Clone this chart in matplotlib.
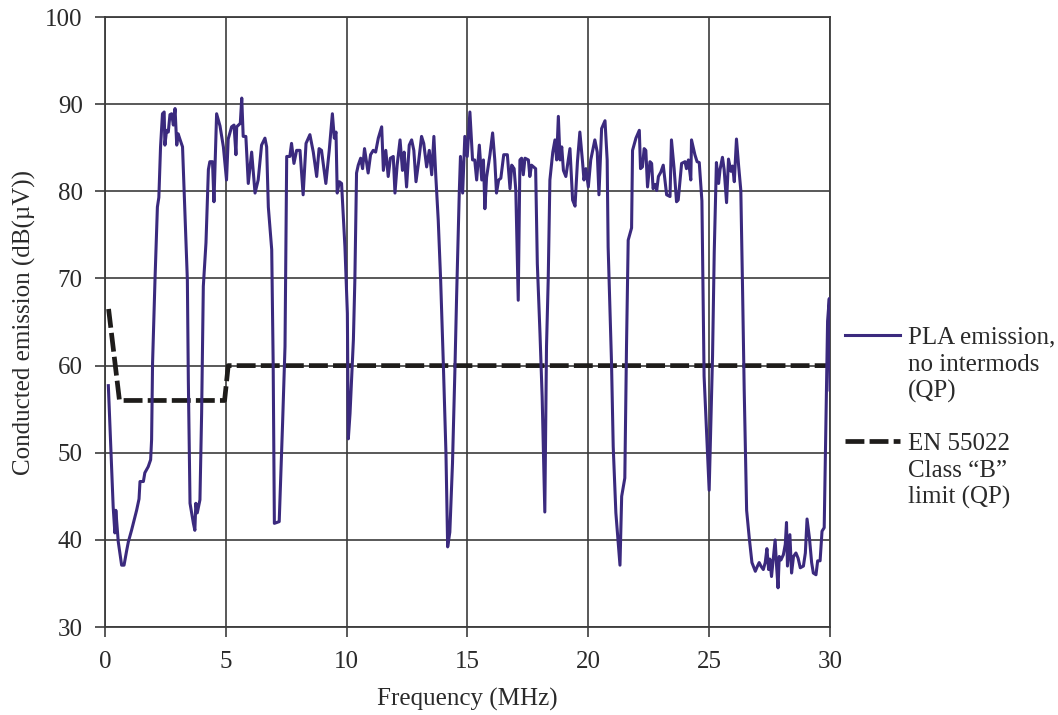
import matplotlib
matplotlib.use('Agg')
import matplotlib.pyplot as plt
from matplotlib.lines import Line2D

# PLA emission, no intermods (QP)
freq = [0.14, 0.34, 0.41, 0.45, 0.55, 0.69, 0.79, 0.9, 0.97, 1.10, 1.31, 1.41, 1.45, 1.59,
        1.65, 1.79, 1.89, 1.93, 1.97, 2.07, 2.17, 2.23, 2.30, 2.38, 2.45, 2.48, 2.55, 2.62,
        2.69, 2.76, 2.83, 2.90, 2.97, 3.03, 3.10, 3.21, 3.31, 3.41, 3.45, 3.52, 3.66, 3.72,
        3.76, 3.82, 3.93, 4.00, 4.07, 4.18, 4.28, 4.34, 4.45, 4.51, 4.62, 4.76, 4.90, 5.03,
        5.10, 5.24, 5.34, 5.42, 5.45, 5.60, 5.66, 5.72, 5.83, 5.93, 6.07, 6.21, 6.34, 6.48,
        6.62, 6.69, 6.76, 6.90, 6.96, 7.01, 7.21, 7.35, 7.45, 7.52, 7.65, 7.72, 7.82, 7.93,
        8.07, 8.20, 8.32, 8.48, 8.62, 8.76, 8.86, 8.96, 9.14, 9.28, 9.41, 9.49, 9.56, 9.61,
        9.70, 9.79, 9.93, 10.03, 10.07, 10.14, 10.28, 10.34, 10.41, 10.48, 10.58, 10.66,
        10.74, 10.89, 10.99, 11.10, 11.20, 11.31, 11.45, 11.52, 11.62, 11.72, 11.81, 11.93,
        12.00, 12.09, 12.21, 12.31, 12.38, 12.48, 12.59, 12.69, 12.78, 12.87, 12.97, 13.10,
        13.19, 13.31, 13.42, 13.52, 13.61, 13.69, 13.79, 13.89, 14.00, 14.11, 14.18, 14.27,
        14.38, 14.48, 14.55, 14.66, 14.71, 14.80, 14.89, 14.99, 15.10, 15.21, 15.30, 15.38,
        15.49, 15.59, 15.66, 15.72, 15.79, 15.93, 16.04, 16.13, 16.20, 16.29, 16.38, 16.50,
        16.65, 16.76, 16.83, 16.93, 17.00, 17.10, 17.17, 17.24, 17.31, 17.38, 17.52, 17.58,
        17.65, 17.82, 17.89, 18.00, 18.09, 18.20, 18.27, 18.34, 18.41, 18.53, 18.62, 18.69,
        18.76, 18.83, 18.90, 18.97, 19.07, 19.24, 19.35, 19.45, 19.55, 19.65, 19.76, 19.82,
        19.90, 20.00, 20.10, 20.27, 20.37, 20.44, 20.55, 20.69, 20.78, 20.82, 20.96, 21.03,
        21.14, 21.31, 21.38, 21.51, 21.58, 21.65, 21.79, 21.83, 21.97, 22.11, 22.16, 22.24,
        22.31, 22.38, 22.45, 22.55, 22.62, 22.68, 22.76, 22.83, 22.90, 23.00, 23.10, 23.24,
        23.38, 23.44, 23.55, 23.65, 23.72, 23.86, 24.00, 24.06, 24.14, 24.24, 24.27, 24.41,
        24.50, 24.59, 24.70, 24.79, 25.00, 25.14, 25.21, 25.30, 25.39, 25.45, 25.55, 25.62,
        25.72, 25.80, 25.90, 25.97, 26.04, 26.13, 26.22, 26.31, 26.38, 26.45, 26.55, 26.66,
        26.77, 26.91, 27.00, 27.07, 27.14, 27.24, 27.32, 27.39, 27.46, 27.51, 27.58, 27.65,
        27.73, 27.79, 27.85, 27.90, 27.97, 28.07, 28.15, 28.20, 28.24, 28.34, 28.41, 28.49,
        28.59, 28.68, 28.77, 28.90, 28.98, 29.05, 29.15, 29.24, 29.31, 29.42, 29.49, 29.59,
        29.67, 29.76, 29.83, 29.90, 29.97, 30.00]
emission = [57.7, 43.8, 40.8, 43.4, 39.8, 37.1, 37.1, 38.8, 39.8, 41.1, 43.4, 44.7, 46.7, 46.7,
            47.7, 48.4, 49.2, 51.5, 60.3, 69.8, 78.2, 79.3, 85.1, 88.9, 89.1, 85.3, 87.0, 86.8,
            88.8, 88.9, 87.6, 89.5, 85.3, 86.6, 86.0, 85.1, 77.5, 69.8, 58.3, 44.2, 41.9, 41.1,
            44.2, 43.1, 44.6, 54.5, 69.1, 74.1, 82.5, 83.4, 83.4, 78.8, 88.9, 87.5, 85.1, 81.3,
            86.0, 87.4, 87.6, 84.2, 87.4, 87.8, 90.7, 86.3, 86.3, 80.9, 84.5, 79.8, 81.3, 85.3,
            86.1, 85.1, 78.2, 73.3, 60.3, 41.9, 42.1, 53.4, 62.2, 84.0, 84.0, 85.5, 83.2, 84.7,
            84.7, 79.6, 85.5, 86.5, 84.5, 81.7, 84.9, 84.7, 80.9, 84.7, 88.9, 86.1, 86.8, 79.8,
            81.1, 80.9, 73.6, 66.0, 51.6, 54.5, 63.0, 69.8, 82.1, 83.0, 83.8, 82.6,
            84.9, 82.1, 84.2, 84.7, 84.5, 86.1, 87.4, 82.4, 84.7, 81.7, 83.8, 84.0,
            79.8, 83.0, 85.9, 82.4, 84.5, 80.5, 85.3, 85.9, 84.7, 81.1, 83.2, 86.3,
            85.5, 82.8, 84.7, 81.9, 86.3, 81.7, 76.7, 69.8, 60.3, 49.9, 39.2, 40.9,
            48.8, 59.5, 67.9, 79.8, 84.0, 79.8, 86.3, 84.0, 89.1, 83.6, 83.6, 81.3,
            85.3, 81.3, 83.6, 78.0, 81.6, 84.2, 86.7, 83.6, 79.8, 81.3, 81.5, 84.2,
            84.2, 80.3, 83.0, 82.6, 80.1, 67.5, 83.6, 83.8, 81.9, 83.8, 83.6, 81.7,
            83.0, 82.6, 71.7, 63.7, 56.4, 43.2, 62.2, 69.8, 81.3, 84.5, 85.9, 83.6,
            88.6, 83.6, 85.1, 82.4, 81.7, 84.9, 79.0, 78.3, 83.4, 86.8, 83.4, 81.3,
            82.6, 80.5, 83.6, 85.9, 84.5, 79.6, 87.2, 88.1, 83.6, 73.6, 60.3, 50.7,
            43.1, 37.1, 45.0, 47.1, 62.2, 74.4, 75.8, 84.7, 86.1, 87.0, 82.6, 82.8,
            84.9, 84.7, 80.5, 83.4, 83.2, 80.3, 80.8, 80.1, 81.7, 82.2, 83.0, 79.6,
            79.4, 85.9, 82.6, 78.8, 79.0, 83.2, 83.4, 82.6, 83.6, 81.3, 85.9, 84.2,
            83.4, 83.3, 78.9, 58.8, 45.7, 61.1, 73.0, 83.3, 80.9, 82.5, 83.9, 82.5,
            78.7, 83.7, 82.3, 82.9, 81.1, 86.0, 82.9, 80.1, 69.1, 57.2, 43.4, 40.2,
            37.4, 36.4, 37.0, 37.4, 37.0, 36.6, 37.4, 39.0, 36.6, 37.8, 35.8, 37.8,
            40.0, 37.0, 34.5, 38.1, 37.7, 38.3, 39.5, 42.0, 37.0, 40.6, 36.2, 38.1,
            38.5, 37.9, 36.8, 37.0, 38.5, 42.4, 40.2, 37.4, 36.2, 36.0, 37.6, 37.6,
            41.0, 41.4, 53.2, 65.1, 67.7, 57.2]

# EN 55022 Class "B" limit (QP)
limit_freq = [0.15, 0.6, 4.95, 5.1, 30.0]
limit_db = [66.5, 56.0, 56.0, 60.0, 60.0]

x_ticks = [0, 5, 10, 15, 20, 25, 30]
y_ticks = [30, 40, 50, 60, 70, 80, 90, 100]

labels = ['PLA emission,\nno intermods\n(QP)', 'EN 55022\nClass \u201cB\u201d\nlimit (QP)']

plt.rcParams['font.family'] = ['Liberation Serif', 'DejaVu Serif']

purple = '#3b2a7e'
dark = '#1e1c1a'
txt = '#2a2a2a'

fig = plt.figure(figsize=(10.58, 7.15), dpi=100)
ax = fig.add_axes([0.0992, 0.123, 0.6853, 0.8532])

ax.plot(freq, emission, c=purple, lw=2.2, zorder=3)
ax.plot(limit_freq, limit_db, c=dark, lw=3.4, dashes=(4, 1.1), zorder=2)

ax.set_xlim(0, 30)
ax.set_ylim(30, 100)
ax.set_xticks(x_ticks)
ax.set_yticks(y_ticks)
ax.grid(True, c='#3c3c3c', lw=1.2)
ax.set_axisbelow(True)
for s in ax.spines.values():
    s.set_color('#3c3c3c')
    s.set_linewidth(1.3)
ax.tick_params(direction='out', length=7, width=1.2, color='#3c3c3c',
               labelsize=18, labelcolor=txt)
ax.tick_params(axis='x', pad=10)
ax.tick_params(axis='y', pad=9)
ax.set_xlabel('Frequency (MHz)', fontsize=18, color=txt, labelpad=11)
ax.set_ylabel('Conducted emission (dB(\u00b5V))', fontsize=18, color=txt, labelpad=7)

# legend drawn by hand: handle lines up with the first text line
for i, (lab, y0) in enumerate(zip(labels, [0.5315, 0.3832])):
    if i == 0:
        h = Line2D([0.7987, 0.8507], [y0, y0], transform=fig.transFigure, c=purple, lw=2.2)
    else:
        h = Line2D([0.7987, 0.8507], [y0, y0], transform=fig.transFigure, c=dark, lw=3.4,
                   dashes=(4, 1.1))
    fig.add_artist(h)
    for j, line in enumerate(lab.split('\n')):
        fig.text(0.8582, y0 - j * 0.0378, line, fontsize=18, color=txt,
                 va='center_baseline', ha='left')

fig.savefig('out.png', dpi=100)
